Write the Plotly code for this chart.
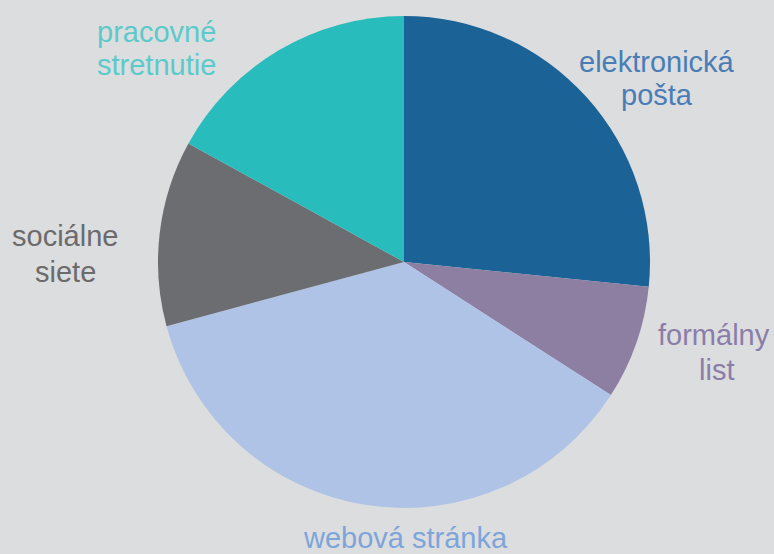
import plotly.graph_objects as go

categories = ["elektronická pošta", "formálny list", "webová stránka", "sociálne siete", "pracovné stretnutie"]
values = [26.6, 7.5, 36.7, 12.2, 17.0]
slice_colors = ["#1b6397", "#8c7fa2", "#aec3e5", "#6b6d70", "#29bcbc"]
text_colors = ["#4a7db5", "#8a7ea8", "#7ea5d9", "#6b6b6b", "#5ccaca"]
label_lines = [["elektronická", "pošta"], ["formálny", "list"], ["webová stránka"], ["sociálne", "siete"], ["pracovné", "stretnutie"]]

W, H = 774, 554
cx, cy, r = 404, 262, 246

# label anchor positions in pixels (center x, center y of each line)
label_pos = [
    [(657, 62), (657, 95)],
    [(714, 335), (716, 370)],
    [(405, 538)],
    [(65, 236), (65, 272)],
    [(156, 32), (156, 65)],
]

fig = go.Figure(go.Pie(
    labels=categories,
    values=values,
    sort=False,
    direction="clockwise",
    rotation=0,
    marker=dict(colors=slice_colors, line=dict(width=0)),
    textinfo="none",
    hoverinfo="label+percent",
    domain=dict(x=[(cx - r) / W, (cx + r) / W], y=[(H - cy - r) / H, (H - cy + r) / H]),
    showlegend=False,
))

annotations = []
for lines, poss, col in zip(label_lines, label_pos, text_colors):
    for txt, (px, py) in zip(lines, poss):
        annotations.append(dict(
            text=txt, x=px / W, y=(H - py) / H, xref="paper", yref="paper",
            xanchor="center", yanchor="middle", showarrow=False,
            font=dict(family="Liberation Sans, Arial, sans-serif", size=29, color=col),
        ))

fig.update_layout(
    width=W, height=H,
    margin=dict(l=0, r=0, t=0, b=0),
    paper_bgcolor="#dcdddf",
    plot_bgcolor="#dcdddf",
    annotations=annotations,
)

fig.write_html(
    "out.html",
    config={"displayModeBar": False},
    post_script="document.body.style.margin='0';document.body.style.overflow='hidden';document.body.style.background='#dcdddf';",
)
